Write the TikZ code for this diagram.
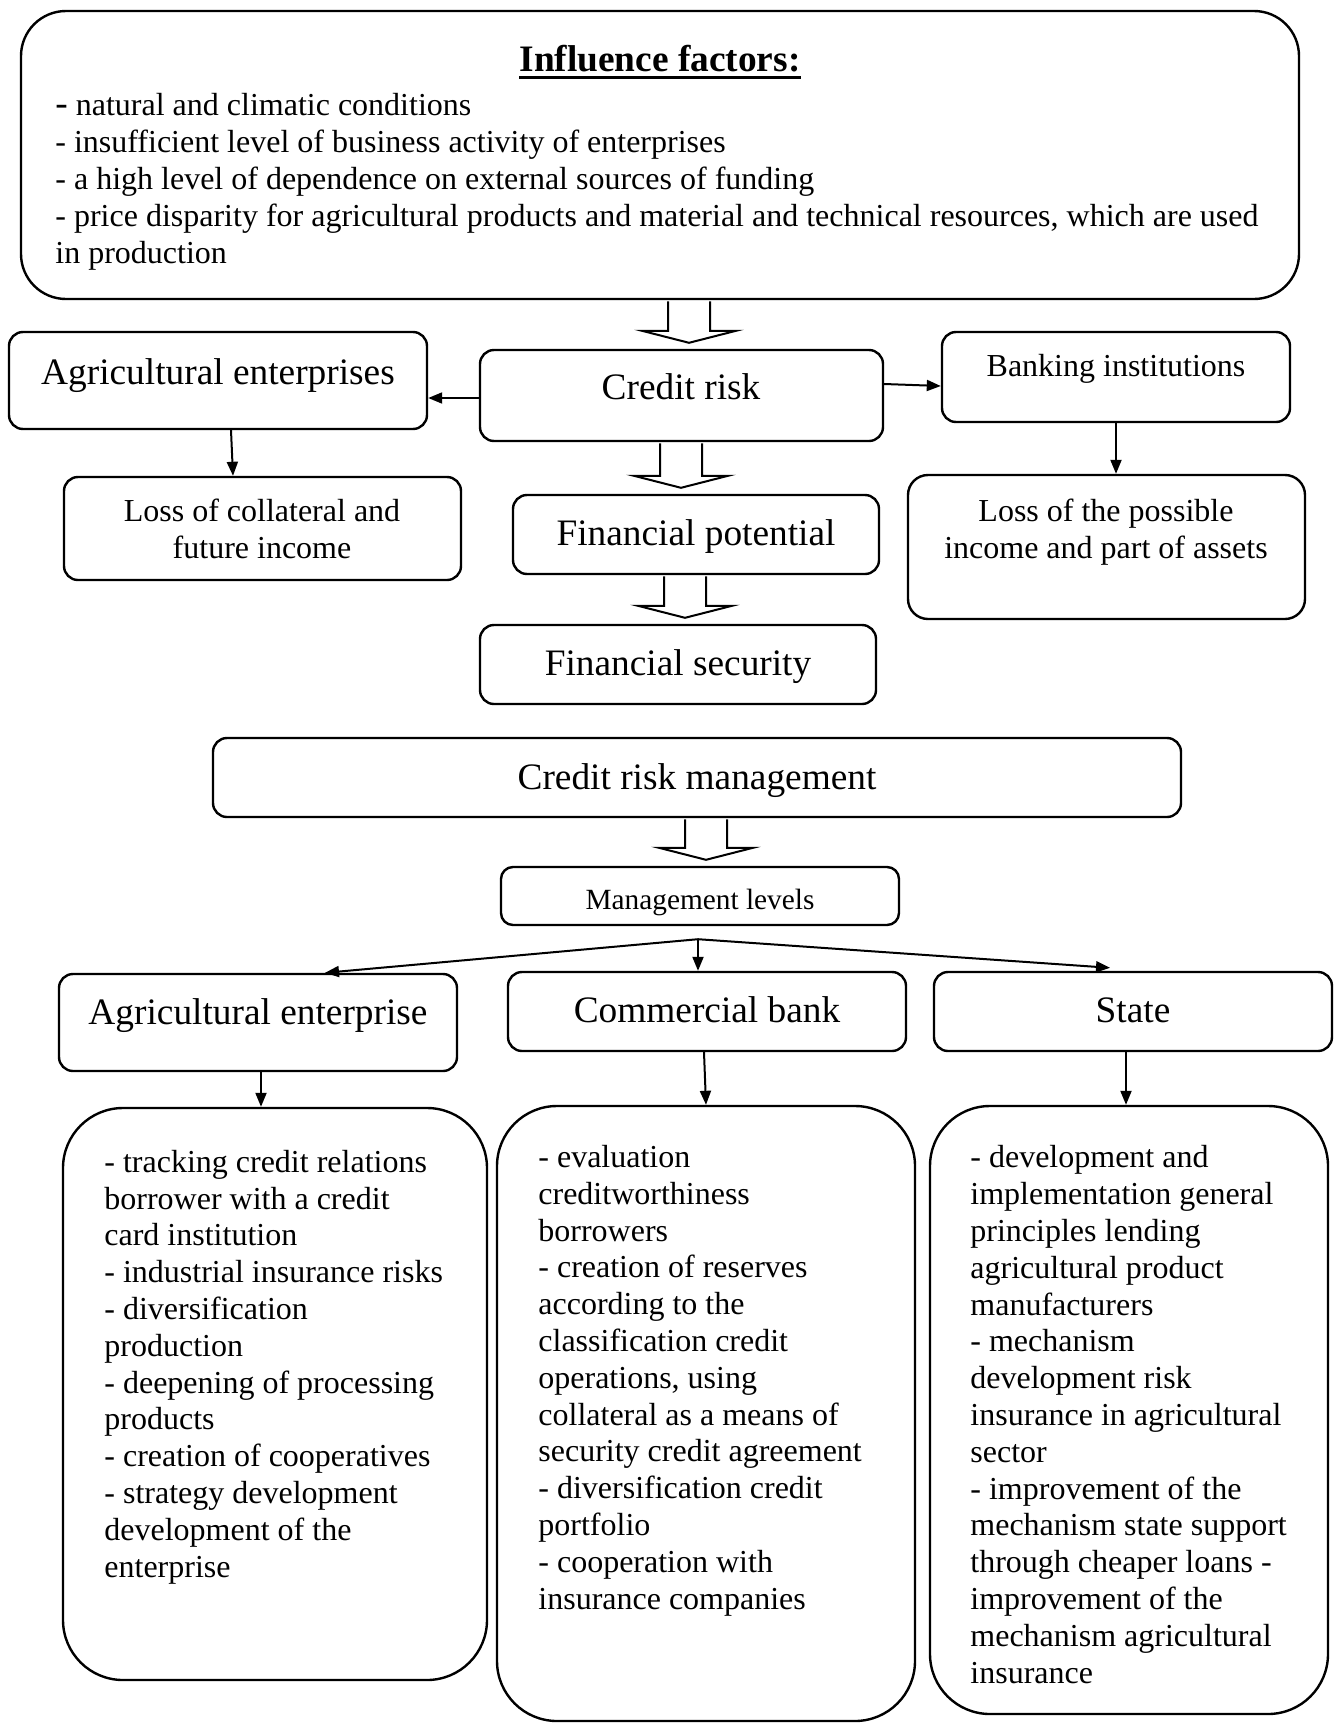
\documentclass[tikz,border=0pt]{standalone}
\usepackage{fontspec}
\setmainfont{Liberation Serif}
\usetikzlibrary{arrows.meta,fit,calc}

\newcommand{\bigtext}{\fontsize{18.67}{21.5}\selectfont}
\newcommand{\bodytext}{\fontsize{16}{18.4}\selectfont}
\newcommand{\smalltext}{\fontsize{14.67}{17}\selectfont}
\newcommand{\headunderline}[1]{\vtop{\hbox{#1}\kern2.2pt\hrule height 1.3pt}}

% hollow block arrow: #1 x of its axis, #2 upper node, #3 lower node
\newcommand{\blockarrow}[3]{%
  \draw[hollow] let \p1=(#2.south), \p2=(#3.north), \p3=(#1,0) in
    (\x3-10.5pt,\y1-0.6pt) -- (\x3-10.5pt,\y2+9pt) -- (\x3-23.5pt,\y2+9pt) -- (\x3,\y2+3pt)
    -- (\x3+23.5pt,\y2+9pt) -- (\x3+10.5pt,\y2+9pt) -- (\x3+10.5pt,\y1-0.6pt);
}

\tikzset{
  box/.style={draw, line width=1.2pt, rounded corners=7pt, inner sep=0pt},
  bigbox/.style={box, rounded corners=30pt},
  arr/.style={line width=1pt, -{Triangle[length=7pt,width=5.5pt]}},
  hollow/.style={draw, line width=1pt},
  lbl/.style={inner sep=0pt, anchor=base},
  % multi-line blocks are placed by the baseline of their last line
  list/.style={inner sep=0pt, anchor=base west, align=left, font=\bodytext},
}

\begin{document}
\begin{tikzpicture}[x=0.5pt,y=-0.5pt]
\useasboundingbox (0,0) rectangle (1339,1724);

% ---- boxes ----
\node[box, rounded corners=22.5pt, fit={(21,11)(1299,299)}] (factors) {};
\node[box, fit={(9,332)(427,429)}] (ae) {};
\node[box, fit={(480,350)(883,441)}] (cr) {};
\node[box, fit={(942,332)(1290,422)}] (bi) {};
\node[box, fit={(64,477)(461,580)}] (lc) {};
\node[box, fit={(513,495)(879,574)}] (fp) {};
\node[box, rounded corners=10pt, fit={(908,475)(1305,619)}] (lp) {};
\node[box, fit={(480,625)(876,704)}] (fs) {};
\node[box, fit={(213,738)(1181,817)}] (crm) {};
\node[box, rounded corners=6pt, fit={(501,867)(899,925)}] (ml) {};
\node[box, fit={(59,974)(457,1071)}] (ae2) {};
\node[box, fit={(508,972)(906,1051)}] (cb) {};
\node[box, fit={(934,972)(1332,1051)}] (st) {};
\node[bigbox, fit={(63,1108)(487,1680)}] (bl) {};
\node[bigbox, fit={(497,1106)(915,1721)}] (bm) {};
\node[bigbox, fit={(930,1106)(1328,1714)}] (brb) {};

% ---- texts ----
\node[lbl, font=\bigtext\bfseries] (factors-title) at (660,71) {\headunderline{Influence factors:}};
\node[list] (factors-list) at (55,263) {%
{\bigtext -} natural and climatic conditions\\
- insufficient level of business activity of enterprises\\
- a high level of dependence on external sources of funding\\
- price disparity for agricultural products and material and technical resources, which are used\\
in production};

\node[lbl, font=\bigtext] (ae-t) at (218,384) {Agricultural enterprises};
\node[lbl, font=\bigtext] (cr-t) at (681,399) {Credit risk};
\node[lbl, font=\bodytext] (bi-t) at (1116,376.5) {Banking institutions};
\node[lbl, font=\bodytext, align=center] (lc-t) at (262,558) {Loss of collateral and\\future income};
\node[lbl, font=\bodytext, align=center] (lp-t) at (1106,558) {Loss of the possible\\income and part of assets};
\node[lbl, font=\bigtext] (fp-t) at (696,545) {Financial potential};
\node[lbl, font=\bigtext] (fs-t) at (678,675) {Financial security};
\node[lbl, font=\bigtext] (crm-t) at (697,789) {Credit risk management};
\node[lbl, font=\smalltext] (ml-t) at (700,909) {Management levels};
\node[lbl, font=\bigtext] (ae2-t) at (258,1024) {Agricultural enterprise};
\node[lbl, font=\bigtext] (cb-t) at (707,1022) {Commercial bank};
\node[lbl, font=\bigtext] (st-t) at (1133,1022) {State};

\node[list] (bl-t) at (104,1577) {%
- tracking credit relations\\
borrower with a credit\\
card institution\\
- industrial insurance risks\\
- diversification\\
production\\
- deepening of processing\\
products\\
- creation of cooperatives\\
- strategy development\\
development of the\\
enterprise};

\node[list] (bm-t) at (538,1609) {%
- evaluation\\
creditworthiness\\
borrowers\\
- creation of reserves\\
according to the\\
classification credit\\
operations, using\\
collateral as a means of\\
security credit agreement\\
- diversification credit\\
portfolio\\
- cooperation with\\
insurance companies};

\node[list] (brb-t) at (970,1683) {%
- development and\\
implementation general\\
principles lending\\
agricultural product\\
manufacturers\\
- mechanism\\
development risk\\
insurance in agricultural\\
sector\\
- improvement of the\\
mechanism state support\\
through cheaper loans -\\
improvement of the\\
mechanism agricultural\\
insurance};

% ---- block arrows ----
\blockarrow{689}{factors}{cr}
\blockarrow{681}{cr}{fp}
\blockarrow{685}{fp}{fs}
\blockarrow{706}{crm}{ml}

% ---- connectors ----
\draw[arr] ([yshift=-1.25pt]cr.west) -- ([yshift=-1.25pt]cr.west -| ae.east);
\draw[arr] ([yshift=5.75pt]cr.east) -- ([yshift=-4.5pt]bi.west);
\draw[arr] ([xshift=6.5pt]ae.south) -- ([xshift=-14.75pt]lc.north);
\draw[arr] (bi.south) -- (bi.south |- lp.north);

\coordinate (fork) at ([xshift=-1pt,yshift=-6.5pt]ml.south);
\draw[arr] (fork) -- ([xshift=33.5pt]ae2.north);
\draw[arr] (fork) -- (fork |- cb.north);
\draw[arr] (fork) -- ([xshift=-11.5pt,yshift=1.5pt]st.north);

\draw[arr] ([xshift=1.5pt]ae2.south) -- ([xshift=1.5pt]ae2.south |- bl.north);
\draw[arr] ([xshift=-1.5pt]cb.south) -- ([xshift=-0.5pt]cb.south |- bm.north);
\draw[arr] ([xshift=-3.5pt]st.south) -- ([xshift=-3.5pt]st.south |- brb.north);
\end{tikzpicture}
\end{document}
